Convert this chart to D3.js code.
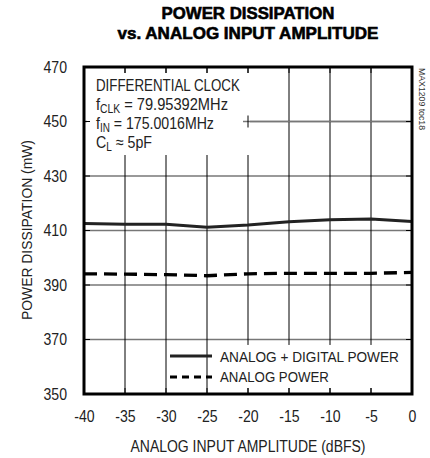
<!DOCTYPE html>
<html><head><meta charset="utf-8">
<script src="https://cdn.jsdelivr.net/npm/d3@7"></script>
<style>body{margin:0;background:#fff}svg{display:block}</style>
</head><body>
<svg id="c" width="430" height="458"></svg>
<script>
const xVals = [-40,-35,-30,-25,-20,-15,-10,-5,0];
const totalPower = [412.6,412.3,412.3,411.2,412.0,413.2,413.9,414.2,413.3];
const analogPower = [394.1,394.0,393.8,393.4,394.1,394.3,394.3,394.3,394.6];
const xTicks = [-40,-35,-30,-25,-20,-15,-10,-5,0];
const yTicks = [350,370,390,410,430,450,470];
const seriesNames = ["ANALOG + DIGITAL POWER","ANALOG POWER"];

const F = "'Liberation Sans','Arial',sans-serif";
const svg = d3.select("#c");
const L=84,R=412,T=67,B=394;
const x = d3.scaleLinear().domain([-40,0]).range([L,R]);
const y = d3.scaleLinear().domain([350,470]).range([B,T]);

function fit(sel, w, ax, ay){
  const n = sel.node().getComputedTextLength();
  const k = w/n;
  sel.attr("transform",`translate(${ax},${ay}) scale(${k},1) translate(${-ax},${-ay})`);
  return sel;
}
function txt(xp, yp, s, size, opts={}){
  return svg.append("text").attr("x",xp).attr("y",yp).attr("font-family",F)
    .attr("font-size",size).attr("fill",opts.fill||"#222")
    .attr("font-weight",opts.bold?"bold":"normal")
    .attr("text-anchor",opts.anchor||"start").text(s);
}

// title
fit(txt(248,19,"POWER DISSIPATION",17,{bold:true,fill:"#000",anchor:"middle"}),173,248,19).attr("stroke","#000").attr("stroke-width",0.6);
fit(txt(248,39,"vs. ANALOG INPUT AMPLITUDE",17,{bold:true,fill:"#000",anchor:"middle"}),261,248,39).attr("stroke","#000").attr("stroke-width",0.6);

// grid
svg.selectAll(".hg").data(yTicks.slice(1,-1)).join("line").attr("class","hg")
  .attr("x1",L).attr("x2",R).attr("y1",d=>y(d)).attr("y2",d=>y(d)).attr("stroke","#777").attr("stroke-width",1.3);
svg.selectAll(".vg").data(xTicks.slice(1,-1)).join("line").attr("class","vg")
  .attr("x1",d=>x(d)).attr("x2",d=>x(d)).attr("y1",T).attr("y2",B).attr("stroke","#000").attr("stroke-width",1);

// white boxes covering grid behind texts
svg.append("rect").attr("x",L+3).attr("y",T+6).attr("width",x(-20)+2-L-3).attr("height",155-T-6).attr("fill","#fff");
svg.append("rect").attr("x",x(-25)+2).attr("y",y(368)).attr("width",R-x(-25)-4).attr("height",B-6-y(368)).attr("fill","#fff");
svg.append("line").attr("x1",x(-20)-5).attr("x2",R).attr("y1",y(450)).attr("y2",y(450)).attr("stroke","#777").attr("stroke-width",1.3);
svg.append("line").attr("x1",x(-20)).attr("x2",x(-20)).attr("y1",y(450)-6).attr("y2",y(450)+6).attr("stroke","#000");

// annotation
fit(txt(96,91,"DIFFERENTIAL CLOCK",17),144,96,91);
function subLine(yp, a, sub, b, w){
  const t = svg.append("text").attr("font-family",F).attr("font-size",17).attr("fill","#222").attr("x",96).attr("y",yp);
  t.append("tspan").text(a);
  t.append("tspan").attr("font-size",12).attr("dy",3).text(sub);
  t.append("tspan").attr("dy",-3).text(b);
  fit(t,w,96,yp);
}
subLine(110,"f","CLK"," = 79.95392MHz",132);
subLine(129,"f","IN"," = 175.0016MHz",118);
subLine(148,"C","L"," \u2248 5pF",56);

// ticks (inside, short)
svg.selectAll(".xtT").data(xTicks.slice(1,-1)).join("line").attr("class","xtT")
  .attr("x1",d=>x(d)).attr("x2",d=>x(d)).attr("y1",T).attr("y2",T+6).attr("stroke","#000");
svg.selectAll(".xtB").data(xTicks.slice(1,-1)).join("line").attr("class","xtB")
  .attr("x1",d=>x(d)).attr("x2",d=>x(d)).attr("y1",B-6).attr("y2",B).attr("stroke","#000");
svg.selectAll(".ytL").data(yTicks.slice(1,-1)).join("line").attr("class","ytL")
  .attr("x1",L).attr("x2",L+6).attr("y1",d=>y(d)).attr("y2",d=>y(d)).attr("stroke","#000");
svg.selectAll(".ytR").data(yTicks.slice(1,-1)).join("line").attr("class","ytR")
  .attr("x1",R-6).attr("x2",R).attr("y1",d=>y(d)).attr("y2",d=>y(d)).attr("stroke","#000");

// axis tick labels via d3 axes
const xa = svg.append("g").attr("transform",`translate(0,${B})`)
  .call(d3.axisBottom(x).tickValues(xTicks).tickSize(0).tickPadding(17).tickFormat(d=>String(d)));
xa.select(".domain").remove();
xa.selectAll("text").attr("font-family",F).attr("font-size",16).attr("fill","#222")
  .each(function(){ const n=this.getComputedTextLength(); d3.select(this).attr("textLength",n*0.88).attr("lengthAdjust","spacingAndGlyphs"); });
const ya = svg.append("g").attr("transform",`translate(${L},0)`)
  .call(d3.axisLeft(y).tickValues(yTicks).tickSize(0).tickPadding(17));
ya.select(".domain").remove();
ya.selectAll("text").attr("font-family",F).attr("font-size",16).attr("fill","#222")
  .each(function(){ const n=this.getComputedTextLength(); d3.select(this).attr("textLength",n*0.88).attr("lengthAdjust","spacingAndGlyphs"); });

// data lines
const line = d3.line().x((d,i)=>x(xVals[i])).y(d=>y(d));
svg.append("path").datum(totalPower).attr("d",line).attr("fill","none").attr("stroke","#222").attr("stroke-width",3);
svg.append("path").datum(analogPower).attr("d",line).attr("fill","none").attr("stroke","#000").attr("stroke-width",3.3).attr("stroke-dasharray","13,7");

// legend
svg.append("line").attr("x1",170).attr("x2",212).attr("y1",356).attr("y2",356).attr("stroke","#222").attr("stroke-width",3);
svg.append("line").attr("x1",170).attr("x2",212).attr("y1",377).attr("y2",377).attr("stroke","#000").attr("stroke-width",3).attr("stroke-dasharray","7,5");
fit(txt(220,362,seriesNames[0],15.5),179,220,362);
fit(txt(220,382,seriesNames[1],15.5),109,220,382);

// frame
svg.append("rect").attr("x",L).attr("y",T).attr("width",R-L).attr("height",B-T).attr("fill","none").attr("stroke","#000").attr("stroke-width",3);

// axis titles
svg.append("text").attr("transform","translate(32,230) rotate(-90)").attr("text-anchor","middle")
  .attr("font-family",F).attr("font-size",15.5).attr("fill","#222")
  .attr("textLength",180).attr("lengthAdjust","spacingAndGlyphs").text("POWER DISSIPATION (mW)");
fit(txt(248,452,"ANALOG INPUT AMPLITUDE (dBFS)",16,{anchor:"middle"}),235,248,452);
svg.append("text").attr("transform","translate(419,68) rotate(90)")
  .attr("font-family",F).attr("font-size",9.5).attr("fill","#333")
  .attr("textLength",62).attr("lengthAdjust","spacingAndGlyphs").text("MAX1209 toc18");
</script>
</body></html>
